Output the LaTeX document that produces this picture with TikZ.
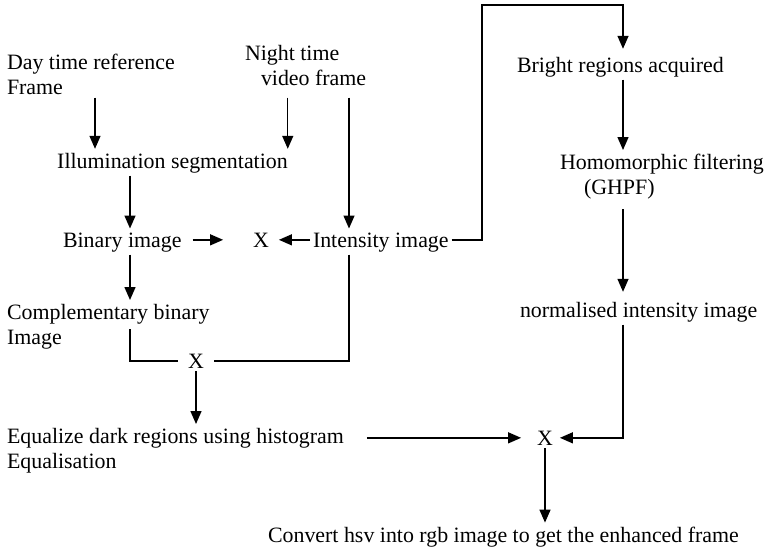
\documentclass[tikz,border=0pt]{standalone}
\usepackage{fontspec}
\setmainfont{Liberation Serif}
\usepackage{tikz}
\usetikzlibrary{arrows.meta,calc}
\tikzset{
  lbl/.style={inner sep=0pt, outer sep=0pt, font=\fontsize{10.95}{12.5}\selectfont, text=black},
  mlbl/.style={lbl, align=left, anchor=north west},
  mul/.style={lbl, anchor=base},
  flow/.style={-{Triangle[length=6.5pt,width=5.5pt]}, draw=black, line width=0.7pt,
               shorten <=1.5pt, shorten >=2pt},
  link/.style={draw=black, line width=0.7pt, shorten <=1.5pt, shorten >=5pt}
}

\begin{document}
\begin{tikzpicture}[x=0.5pt, y=-0.5pt]
 \useasboundingbox (0,0) rectangle (765,552);
 \coordinate (dcol) at (95,0);
 \coordinate (lcol) at (130,0);
 \coordinate (ncol) at (349,0);
 \coordinate (rcol) at (623,0);
 \coordinate (topr) at (482,5);
 \node[mlbl] (day) at (7,54) {Day time reference\\Frame};
 \node[mlbl] (night) at (245,45) {Night time\\\hspace*{8pt}video frame};
 \node[mul] (illum) at (172.5,168) {Illumination segmentation};
 \node[lbl, anchor=base west] (bin) at (63,247) {Binary image};
 \node[mul] (x1) at (261,247) {X};
 \node[lbl, anchor=base west] (int) at (313,247) {Intensity image};
 \node[lbl, anchor=base west] (bright) at (517,72) {Bright regions acquired};
 \node[mlbl] (homo) at (560,154) {Homomorphic filtering\\\hspace*{12pt}(GHPF)};
 \node[lbl, anchor=base west] (norm) at (520,317) {normalised intensity image};
 \node[mlbl] (comp) at (7,304) {Complementary binary\\Image};
 \node[mul] (x3) at (196,368) {X};
 \node[mlbl] (eq) at (7,428) {Equalize dark regions using histogram\\Equalisation};
 \node[mul] (x2) at (545,445) {X};
 \node[lbl, anchor=base west] (conv) at (268,542) {Convert hsv into rgb image to get the enhanced frame};
 \draw[flow] (day.south -| dcol) -- (illum.north -| dcol);
 \draw[flow] (day.south -| illum.east) -- (illum.north east);
 \draw[flow] (day.south -| ncol) -- (int.north -| ncol);
 \draw[flow] (illum.south -| lcol) -- (bin.north -| lcol);
 \draw[flow, shorten <=5.5pt, shorten >=15pt] (bin.east |- x1) -- (x1.west);
 \draw[flow, shorten >=5pt] (int.west |- x1) -- (x1.east);
 \draw[flow, shorten >=4pt] (int.east |- x1) -| (topr) -| (bright.north -| rcol);
 \draw[flow] (bright.south -| rcol) -- (homo.north -| rcol);
 \draw[flow, shorten <=5pt, shorten >=5pt] (homo.south -| rcol) -- (norm.north -| rcol);
 \draw[flow, shorten >=3.5pt] (norm.south -| rcol) |- (x2.east);
 \draw[flow] (bin.south -| lcol) -- (comp.north -| lcol);
 \draw[link] (comp.center -| lcol) |- (x3.west);
 \draw[link] (int.south -| ncol) |- (x3.east);
 \draw[flow] (x3.south) -- (x3.south |- eq.north);
 \draw[flow, shorten <=11.5pt, shorten >=8pt] (eq.east |- x2) -- (x2.west);
 \draw[flow] (x2.south) -- (x2.south |- conv.north);
\end{tikzpicture}
\end{document}
